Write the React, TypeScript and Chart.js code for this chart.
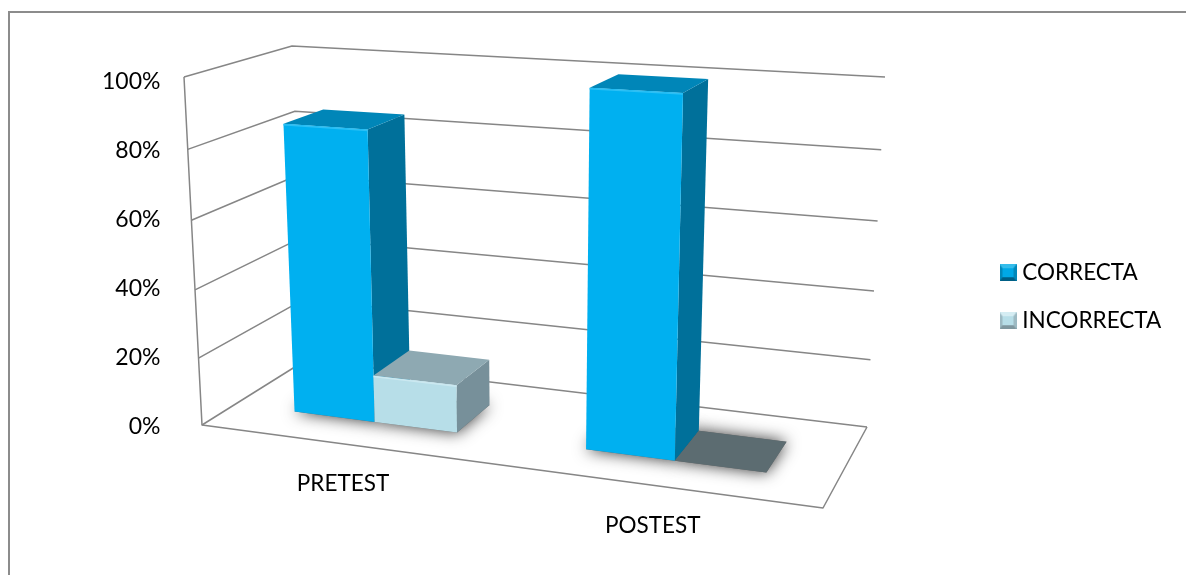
import React, { useEffect, useRef } from "react";
import { Chart, registerables } from "chart.js";

Chart.register(...registerables);

const categories = ["PRETEST", "POSTEST"];
const correcta = [85, 100];
const incorrecta = [14, 0];
const yTicks = [0, 20, 40, 60, 80, 100];

const FONT = "Lato";
const GRID = "#868686";
const SHADES: Record<string, { front: string; top: string; side: string; flat: string; rim: string }> = {
  CORRECTA: { front: "#00B0F0", top: "#0086B8", side: "#00709A", flat: "#0086B8", rim: "#2CC0F5" },
  INCORRECTA: { front: "#B7DEE8", top: "#8EA9B2", side: "#77909A", flat: "#5C6C71", rim: "#CBE8F0" },
};

type Pt = [number, number];

// Corners of the box: floor and ceiling, ordered front-left, front-right, back-right, back-left.
const FLOOR: Pt[] = [[202, 425], [823, 508], [867, 427], [306, 360]];
const CEILING: Pt[] = [[184, 77], [838, 115], [885, 77], [292, 46]];
const BAR_DEPTH: [number, number] = [0.3, 0.69];
const HEIGHT_PERSPECTIVE = 1.05;

function quadMap(q: Pt[]) {
  const [[x0, y0], [x1, y1], [x2, y2], [x3, y3]] = q;
  const dx1 = x1 - x2, dx2 = x3 - x2, sx = x0 - x1 + x2 - x3;
  const dy1 = y1 - y2, dy2 = y3 - y2, sy = y0 - y1 + y2 - y3;
  const den = dx1 * dy2 - dx2 * dy1;
  const g = (sx * dy2 - dx2 * sy) / den;
  const h = (dx1 * sy - sx * dy1) / den;
  const a = x1 - x0 + g * x1, b = x3 - x0 + h * x3;
  const d = y1 - y0 + g * y1, e = y3 - y0 + h * y3;
  return (u: number, w: number): Pt => {
    const k = g * u + h * w + 1;
    return [(a * u + b * w + x0) / k, (d * u + e * w + y0) / k];
  };
}
const floorAt = quadMap(FLOOR);
const ceilingAt = quadMap(CEILING);

// Box coordinates: u along the category axis, w into the depth, v up the value axis.
function project(u: number, w: number, v: number): Pt {
  const f = floorAt(u, w);
  const c = ceilingAt(u, w);
  const t = v <= 0 ? 0 : v / (v + (1 - v) * HEIGHT_PERSPECTIVE);
  return [f[0] + (c[0] - f[0]) * t, f[1] + (c[1] - f[1]) * t];
}

function poly(ctx: CanvasRenderingContext2D, pts: Pt[]) {
  ctx.beginPath();
  pts.forEach((p, i) => (i ? ctx.lineTo(p[0], p[1]) : ctx.moveTo(p[0], p[1])));
  ctx.closePath();
}

function bevelIcon(main: string, light: string, dark: string, mid: string) {
  const c = document.createElement("canvas");
  c.width = 17;
  c.height = 17;
  const g = c.getContext("2d")!;
  g.fillStyle = mid;
  g.fillRect(0, 0, 17, 17);
  g.fillStyle = light;
  poly(g, [[0, 0], [17, 0], [14, 4], [3, 4]]);
  g.fill();
  g.fillStyle = dark;
  poly(g, [[0, 17], [17, 17], [14, 13], [3, 13]]);
  g.fill();
  g.fillStyle = main;
  poly(g, [[3, 4], [14, 4], [14, 13], [3, 13]]);
  g.fill();
  return c;
}

const box3d = {
  id: "box3d",
  afterLayout(chart: any) {
    const lg = chart.legend;
    lg.left = 979.5;
    lg.top = 236;
    lg.right = 1186;
    lg.bottom = 364;
  },
  beforeDraw(chart: any) {
    const { ctx, width, height } = chart;
    ctx.save();
    ctx.fillStyle = "#fff";
    ctx.fillRect(0, 0, width, height);
    ctx.strokeStyle = "#8c8c8c";
    ctx.lineWidth = 2;
    ctx.beginPath();
    ctx.moveTo(9, height);
    ctx.lineTo(9, 12);
    ctx.lineTo(width, 12);
    ctx.stroke();
    ctx.restore();
  },
  beforeDatasetsDraw(chart: any) {
    const { ctx, chartArea: area, scales } = chart;
    const uOf = (px: number) => (px - area.left) / (area.right - area.left);
    const vOf = (px: number) => (area.bottom - px) / (area.bottom - area.top);
    ctx.save();

    // Walls and floor
    ctx.strokeStyle = GRID;
    ctx.lineWidth = 1.5;
    ctx.lineJoin = "round";
    yTicks.forEach((t) => {
      const v = vOf(scales.y.getPixelForValue(t));
      const a = project(0, 0, v), b = project(0, 1, v), c = project(1, 1, v);
      ctx.beginPath();
      ctx.moveTo(a[0], a[1]);
      ctx.lineTo(b[0], b[1]);
      ctx.lineTo(c[0], c[1]);
      ctx.stroke();
    });
    const edges: Pt[][] = [
      [project(0, 0, 1), project(0, 0, 0), project(1, 0, 0), project(1, 1, 0)],
    ];
    edges.forEach((e) => {
      ctx.beginPath();
      e.forEach((p, i) => (i ? ctx.lineTo(p[0], p[1]) : ctx.moveTo(p[0], p[1])));
      ctx.stroke();
    });

    const [w0, w1] = BAR_DEPTH;
    const metas = chart.data.datasets.map((_: any, i: number) => chart.getDatasetMeta(i));

    const footprint = (el: any): Pt[] => {
      const u0 = uOf(el.x - el.width / 2), u1 = uOf(el.x + el.width / 2);
      return [project(u0, w0, 0), project(u1, w0, 0), project(u1, w1, 0), project(u0, w1, 0)];
    };

    // Soft contact shadows under each column
    metas.forEach((m: any) =>
      m.data.forEach((el: any) => {
        ctx.save();
        ctx.shadowColor = "rgba(0,0,0,0.8)";
        ctx.shadowBlur = 16;
        ctx.fillStyle = "#666";
        poly(ctx, footprint(el));
        ctx.fill();
        ctx.restore();
      })
    );

    // Columns, back to front within each category
    categories.forEach((_, ci) => {
      metas.forEach((m: any, di: number) => {
        const el = m.data[ci];
        const shade = SHADES[chart.data.datasets[di].label];
        const u0 = uOf(el.x - el.width / 2), u1 = uOf(el.x + el.width / 2);
        const vb = vOf(el.base), vt = vOf(el.y);
        if (vt - vb < 0.001) {
          ctx.fillStyle = shade.flat;
          poly(ctx, footprint(el));
          ctx.fill();
          return;
        }
        ctx.fillStyle = shade.side;
        poly(ctx, [project(u1, w0, vb), project(u1, w1, vb), project(u1, w1, vt), project(u1, w0, vt)]);
        ctx.fill();
        ctx.fillStyle = shade.top;
        poly(ctx, [project(u0, w0, vt), project(u1, w0, vt), project(u1, w1, vt), project(u0, w1, vt)]);
        ctx.fill();
        ctx.fillStyle = shade.front;
        poly(ctx, [project(u0, w0, vb), project(u1, w0, vb), project(u1, w0, vt), project(u0, w0, vt)]);
        ctx.fill();
        // Light rim along the top edge of the front face
        const tl = project(u0, w0, vt), tr = project(u1, w0, vt);
        ctx.strokeStyle = shade.rim;
        ctx.lineWidth = 1.5;
        ctx.beginPath();
        ctx.moveTo(tl[0], tl[1] + 1);
        ctx.lineTo(tr[0], tr[1] + 1);
        ctx.stroke();
      });
    });

    // Category labels sit below the front floor edge
    ctx.fillStyle = "#000";
    ctx.font = `22.5px ${FONT}`;
    ctx.textAlign = "center";
    ctx.textBaseline = "middle";
    scales.x.getLabels().forEach((label: string, i: number) => {
      const p = project(uOf(scales.x.getPixelForTick(i)), 0, 0);
      ctx.fillText(label, p[0] - 2, p[1] + 40);
    });

    ctx.restore();
    return false;
  },
};

export default function App() {
  const ref = useRef<HTMLCanvasElement | null>(null);

  useEffect(() => {
    const icons = [
      bevelIcon("#00A8E6", "#35BDEB", "#005F85", "#0088BA"),
      bevelIcon("#B7DEE8", "#D5EDF3", "#7F979F", "#9DBAC3"),
    ];
    const chart = new Chart(ref.current!, {
      type: "bar",
      data: {
        labels: categories,
        datasets: [
          { label: "CORRECTA", data: correcta, backgroundColor: "#00B0F0", categoryPercentage: 0.57, barPercentage: 1 },
          { label: "INCORRECTA", data: incorrecta, backgroundColor: "#B7DEE8", categoryPercentage: 0.57, barPercentage: 1 },
        ],
      },
      options: {
        responsive: false,
        animation: false,
        layout: { padding: { left: 100, top: 82, bottom: 148, right: 0 } },
        plugins: {
          title: { display: false },
          tooltip: { enabled: false },
          legend: {
            position: "right",
            align: "start",
            labels: {
              font: { family: FONT, size: 22.5 },
              color: "#000",
              usePointStyle: true,
              pointStyleWidth: 6,
              padding: 25.5,
              generateLabels: (c: any) =>
                c.data.datasets.map((ds: any, i: number) => ({
                  text: ds.label,
                  fillStyle: ds.backgroundColor,
                  pointStyle: icons[i],
                  datasetIndex: i,
                  lineWidth: 0,
                  hidden: false,
                })),
            },
          },
        },
        scales: {
          x: {
            grid: { display: false },
            border: { display: false },
            ticks: { display: false },
            afterFit: (s: any) => {
              s.height = 0;
            },
          },
          y: {
            min: 0,
            max: 100,
            grid: { display: false },
            border: { display: false },
            afterBuildTicks: (s: any) => {
              s.ticks = yTicks.map((value) => ({ value }));
            },
            ticks: {
              color: "#000",
              padding: 2,
              font: { family: FONT, size: 23 },
              callback: (v: any) => `${v}%`,
            },
          },
        },
      },
      plugins: [box3d],
    } as any);
    return () => chart.destroy();
  }, []);

  return (
    <div style={{ position: "absolute", left: 0, top: 0, width: 1186, height: 575, background: "#fff" }}>
      <canvas ref={ref} width={1186} height={575} style={{ display: "block" }} />
    </div>
  );
}
